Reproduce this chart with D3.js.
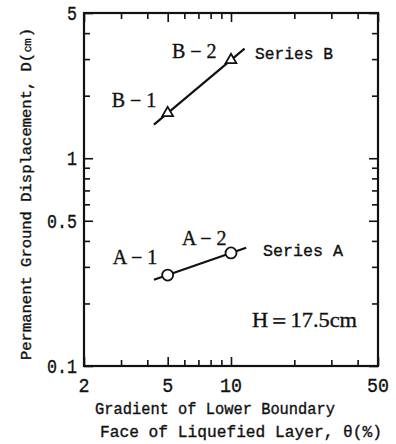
<!DOCTYPE html>
<html>
<head>
<meta charset="utf-8">
<script src="https://cdn.jsdelivr.net/npm/d3@7"></script>
<style>
  body { margin: 0; background: #fff; }
  svg { display: block; }
  .mono { font-family: "Liberation Mono", "DejaVu Sans Mono", monospace; }
  .serif { font-family: "Liberation Serif", "DejaVu Serif", serif; }
  text { fill: #111; stroke: #111; stroke-width: 0.35px; }
</style>
</head>
<body>
<div id="chart"></div>
<script>
// datos
const thetaMajor = [2, 5, 10, 50];
const thetaMinor = [3, 4, 6, 7, 8, 9, 20, 30, 40];
const dMajor = [0.1, 0.5, 1, 5];
const dMinor = [0.2, 0.3, 0.4, 0.6, 0.7, 0.8, 0.9, 2, 3, 4];

// Serie A (círculos) y Serie B (triángulos)
const seriesA = [
    { label: "A − 1", theta: 5, d: 0.274 },
    { label: "A − 2", theta: 10, d: 0.35 }
];
const seriesB = [
    { label: "B − 1", theta: 5, d: 1.65 },
    { label: "B − 2", theta: 10, d: 2.97 }
];
// extremos de las rectas de tendencia
const trendA = [[4.3, 0.26], [11.8, 0.371]];
const trendB = [[4.3, 1.45], [11.6, 3.37]];

const W = 396, H = 444;
const margin = { top: 13, right: 18, bottom: 78, left: 84 },
    width = W - margin.left - margin.right,
    height = H - margin.top - margin.bottom;

const svg = d3.select("#chart")
    .append("svg")
    .attr("width", W)
    .attr("height", H);

const g = svg.append("g")
    .attr("transform", `translate(${margin.left},${margin.top})`);

const x = d3.scaleLog().domain([2, 50]).range([0, width]);
const y = d3.scaleLog().domain([0.1, 5]).range([height, 0]);

// marcas hacia dentro en los cuatro lados
const axes = [
    [() => d3.axisBottom(x), `translate(0,${height})`, thetaMajor, thetaMinor],
    [() => d3.axisTop(x), null, thetaMajor, thetaMinor],
    [() => d3.axisLeft(y), null, dMajor, dMinor],
    [() => d3.axisRight(y), `translate(${width},0)`, dMajor, dMinor]
];
axes.forEach(([makeAxis, tr, major, minor]) => {
    [[major, 9], [minor, 6]].forEach(([vals, len]) => {
        const a = g.append("g")
            .call(makeAxis().tickValues(vals).tickSize(-len).tickFormat(""));
        if (tr) a.attr("transform", tr);
        a.select(".domain").remove();
        a.selectAll("line").attr("stroke", "#111").attr("stroke-width", 1.6);
    });
});

g.append("rect")
    .attr("width", width)
    .attr("height", height)
    .attr("fill", "none")
    .attr("stroke", "#111")
    .attr("stroke-width", 2.2);

// etiquetas de los ejes
g.selectAll(".xlab")
    .data(thetaMajor)
    .enter()
    .append("text")
    .attr("class", "mono")
    .attr("x", d => x(d))
    .attr("y", height + 26)
    .attr("text-anchor", "middle")
    .attr("font-size", 21)
    .attr("textLength", d => String(d).length * 11)
    .attr("lengthAdjust", "spacingAndGlyphs")
    .text(d => d);

g.selectAll(".ylab")
    .data(dMajor)
    .enter()
    .append("text")
    .attr("class", "mono")
    .attr("x", -7)
    .attr("y", d => y(d) + 7)
    .attr("text-anchor", "end")
    .attr("font-size", 21)
    .attr("textLength", d => String(d).length * 10)
    .attr("lengthAdjust", "spacingAndGlyphs")
    .text(d => d);

// títulos
svg.append("text")
    .attr("class", "mono")
    .attr("transform", "translate(31,194) rotate(-90)")
    .attr("text-anchor", "middle")
    .attr("font-size", 14)
    .attr("textLength", 332)
    .attr("lengthAdjust", "spacingAndGlyphs")
    .text("Permanent Ground Displacement, D(㎝)");

svg.append("text")
    .attr("class", "mono")
    .attr("x", 215)
    .attr("y", 414)
    .attr("text-anchor", "middle")
    .attr("font-size", 16)
    .attr("textLength", 240)
    .attr("lengthAdjust", "spacingAndGlyphs")
    .text("Gradient of Lower Boundary");

svg.append("text")
    .attr("class", "mono")
    .attr("x", 241)
    .attr("y", 437)
    .attr("text-anchor", "middle")
    .attr("font-size", 16)
    .attr("textLength", 282)
    .attr("lengthAdjust", "spacingAndGlyphs")
    .text("Face of Liquefied Layer, θ(%)");

// rectas
const line = d3.line().x(d => x(d[0])).y(d => y(d[1]));
[trendA, trendB].forEach(t => {
    g.append("path")
        .attr("d", line(t))
        .attr("fill", "none")
        .attr("stroke", "#111")
        .attr("stroke-width", 2.2);
});

// marcadores
g.selectAll(".ptA")
    .data(seriesA)
    .enter()
    .append("circle")
    .attr("cx", d => x(d.theta))
    .attr("cy", d => y(d.d))
    .attr("r", 5.5)
    .attr("fill", "#fff")
    .attr("stroke", "#111")
    .attr("stroke-width", 1.8);

g.selectAll(".ptB")
    .data(seriesB)
    .enter()
    .append("path")
    .attr("d", d3.symbol(d3.symbolTriangle, 50))
    .attr("transform", d => `translate(${x(d.theta)},${y(d.d)})`)
    .attr("fill", "#fff")
    .attr("stroke", "#111")
    .attr("stroke-width", 1.8);

// rótulos de los puntos
const labelOffsetsB = [[-56, -6], [-59, -2]];
seriesB.forEach((d, i) => {
    g.append("text")
        .attr("class", "serif")
        .attr("x", x(d.theta) + labelOffsetsB[i][0])
        .attr("y", y(d.d) + labelOffsetsB[i][1])
        .attr("font-size", 20)
        .text(d.label);
});
const labelOffsetsA = [[-55, -11], [-49, -8]];
seriesA.forEach((d, i) => {
    g.append("text")
        .attr("class", "serif")
        .attr("x", x(d.theta) + labelOffsetsA[i][0])
        .attr("y", y(d.d) + labelOffsetsA[i][1])
        .attr("font-size", 20)
        .text(d.label);
});

svg.append("text")
    .attr("class", "mono")
    .attr("x", 255)
    .attr("y", 59)
    .attr("font-size", 16)
    .attr("textLength", 78)
    .attr("lengthAdjust", "spacingAndGlyphs")
    .text("Series B");

svg.append("text")
    .attr("class", "mono")
    .attr("x", 263)
    .attr("y", 256)
    .attr("font-size", 16)
    .attr("textLength", 80)
    .attr("lengthAdjust", "spacingAndGlyphs")
    .text("Series A");

svg.append("text")
    .attr("class", "serif")
    .attr("x", 252)
    .attr("y", 327)
    .attr("font-size", 21)
    .attr("textLength", 105)
    .attr("lengthAdjust", "spacingAndGlyphs")
    .text("H＝17.5cm");
</script>
</body>
</html>
